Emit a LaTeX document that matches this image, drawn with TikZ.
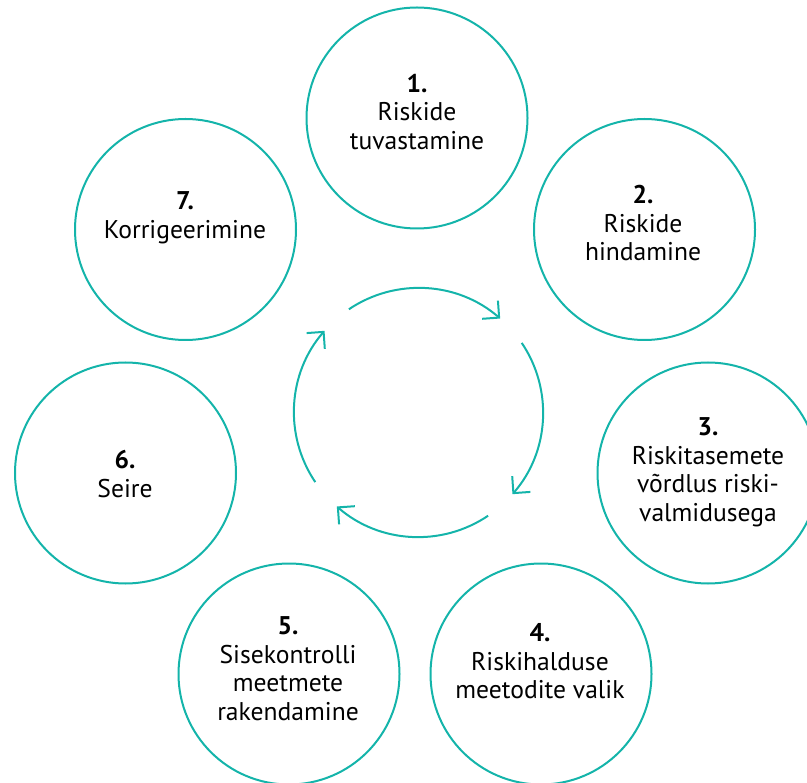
\documentclass[tikz,border=0pt]{standalone}
\usepackage{fontspec}
\setmainfont{PT Sans}
\usetikzlibrary{arrows.meta}
\definecolor{ringteal}{RGB}{20,180,170}
\tikzset{
	stage/.style={circle,draw=ringteal,line width=1pt,minimum size=110.5pt,inner sep=0pt},
	stagetext/.style={align=center,font=\fontsize{12.8}{14.25}\selectfont},
	cyclearrow/.style={draw=ringteal,line width=1pt,-{Straight Barb[length=6pt,width=12pt]}}
}
\begin{document}
\begin{tikzpicture}[x=0.5pt,y=0.5pt]
	\clip (0,0) rectangle (807,782);
	\useasboundingbox (0,0) rectangle (807,782);

	\node[stage] (s1) at (417,664) {};
	\node[stage] (s2) at (644.5,552.5) {};
	\node[stage] (s3) at (708,309) {};
	\node[stage] (s4) at (541,108) {};
	\node[stage] (s5) at (289,108) {};
	\node[stage] (s6) at (125.5,309) {};
	\node[stage] (s7) at (185.5,552.5) {};

	\node[stagetext] (t1) at (417,670) {\textbf{1.}\\Riskide\\tuvastamine};
	\node[stagetext] (t2) at (643,558.5) {\textbf{2.}\\Riskide\\hindamine};
	\node[stagetext] (t3) at (708,309.5) {\textbf{3.}\\Riskitasemete\\võrdlus riski-\\valmidusega};
	\node[stagetext] (t4) at (540,120.5) {\textbf{4.}\\Riskihalduse\\meetodite valik};
	\node[stagetext] (t5) at (288,113.5) {\textbf{5.}\\Sisekontrolli\\meetmete\\rakendamine};
	\node[stagetext] (t6) at (125,308) {\textbf{6.}\\Seire};
	\node[stagetext] (t7) at (185,564) {\textbf{7.}\\Korrigeerimine};

	\coordinate (hub) at (418.5,369.5);
	\foreach \a in {124,34,-56,-146}
		\draw[cyclearrow] ([shift={(\a:124.5)}]hub) arc[start angle=\a,end angle=\a-75,radius=124.5];
\end{tikzpicture}
\end{document}
